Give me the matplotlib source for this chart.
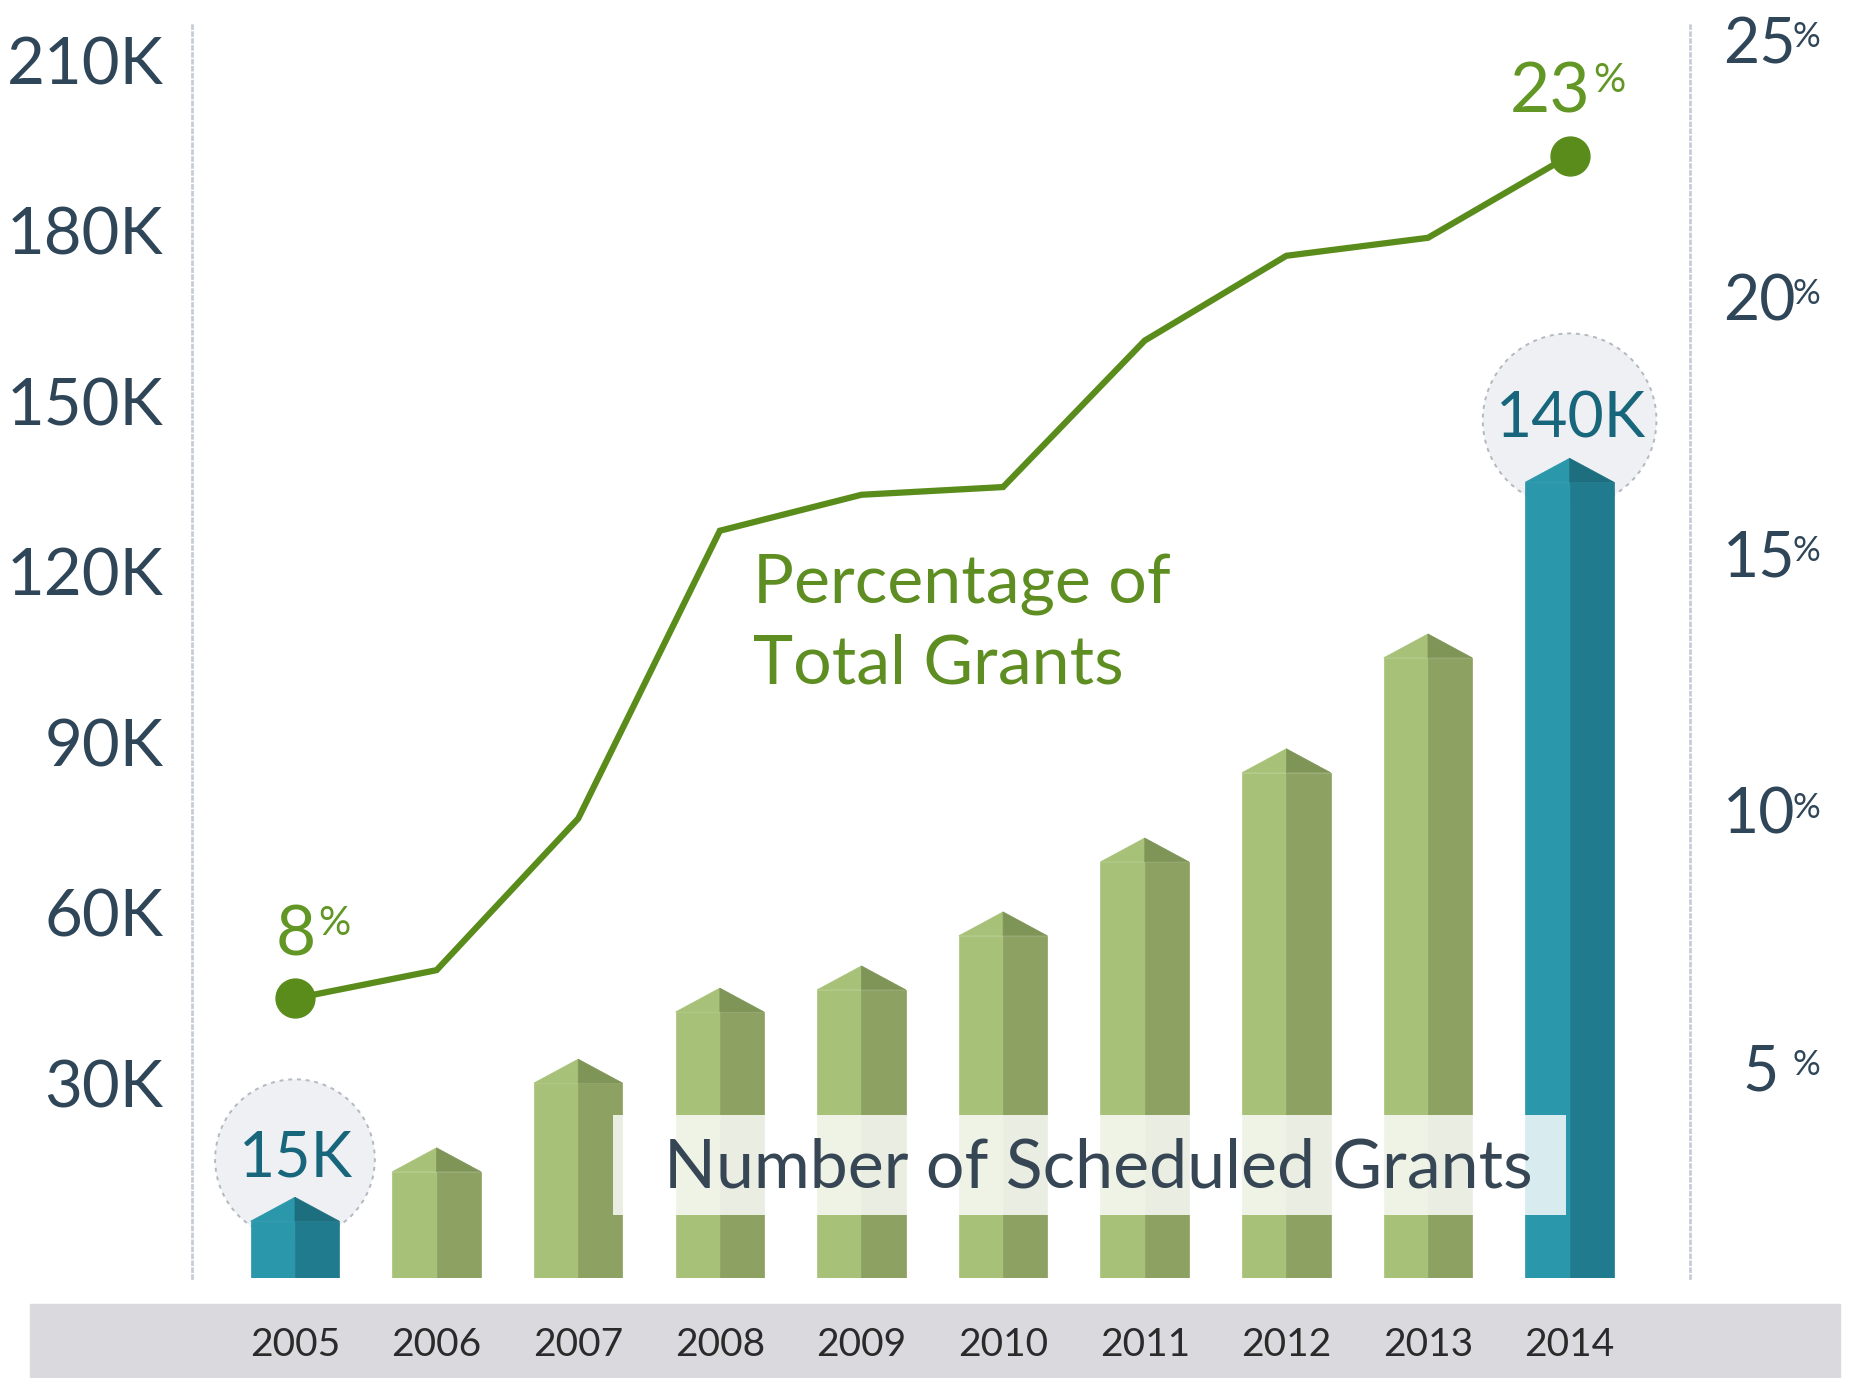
import numpy as np
import matplotlib
matplotlib.use("Agg")
import matplotlib.pyplot as plt
from matplotlib.patches import Rectangle

plt.rcParams["font.family"] = ["Lato", "DejaVu Sans"]

# data
years = ["2005", "2006", "2007", "2008", "2009", "2010", "2011", "2012", "2013", "2014"]
grants_k = [10.0, 18.7, 34.3, 46.8, 50.7, 60.2, 73.2, 88.9, 109.1, 140.0]
pct_total = [6.8, 7.35, 10.3, 15.9, 16.6, 16.75, 19.6, 21.25, 21.6, 23.2]
bubble_idx = [0, 9]
bubble_text = ["15K", "140K"]
end_idx = [0, 9]
end_text = ["8", "23"]
left_ticks = [30, 60, 90, 120, 150, 180, 210]
right_ticks = [5, 10, 15, 20, 25]

# colours
TEAL_L, TEAL_D, TEAL_R = "#2a97ab", "#1f7b8d", "#1d6f80"
GREEN_L, GREEN_D, GREEN_R = "#a7c278", "#8ca162", "#7f9557"
LINE = "#5a8c1c"
AXTXT = "#2f4558"

fig = plt.figure(figsize=(18.5, 13.78), dpi=100)
fig.add_artist(Rectangle((30 / 1850, 0), 1810 / 1850, 74 / 1378,
                         transform=fig.transFigure, color="#d9d9de", zorder=0))

ax = fig.add_axes([192 / 1850, 100 / 1378, 1498 / 1850, 1254 / 1378])
ax2 = ax.twinx()

x = np.arange(len(years))
w = 0.625
roof = 4.2
hl = set(bubble_idx)
light = [TEAL_L if i in hl else GREEN_L for i in x]
dark = [TEAL_D if i in hl else GREEN_D for i in x]
rdark = [TEAL_R if i in hl else GREEN_R for i in x]

ax.bar(x - w / 4, grants_k, width=w / 2, color=light, edgecolor=light, lw=0.5, zorder=3)
ax.bar(x + w / 4, grants_k, width=w / 2, color=dark, edgecolor=dark, lw=0.5, zorder=3)
for xi, v, cl, cr in zip(x, grants_k, light, rdark):
    ax.fill([xi - w / 2, xi, xi], [v, v + roof, v], color=cl, lw=0.5, zorder=3)
    ax.fill([xi, xi, xi + w / 2], [v, v + roof, v], color=cr, lw=0.5, zorder=3)

# bubbles with value labels
bx = [x[i] for i in bubble_idx]
by = [grants_k[i] + 10.9 for i in bubble_idx]
ax.scatter(bx, by, s=[115 ** 2, 125 ** 2], facecolor="#eef0f3", edgecolor="#b3b8c1",
           linewidths=1.4, linestyles=(0, (2, 2.5)), zorder=2)
for xi, yi, t in zip(bx, by, bubble_text):
    ax.annotate(t, xy=(xi, yi), xytext=(1, -12.5), textcoords="offset points",
                ha="center", va="baseline", fontsize=45, color="#17667b", zorder=4)

# label box
ax.add_patch(Rectangle((0.281, 0.0502), 0.636, 0.0797, transform=ax.transAxes,
                       facecolor="white", alpha=0.82, lw=0, zorder=5))
ax.text(0.3151, 0.0718, "Number of Scheduled Grants", transform=ax.transAxes,
        ha="left", va="baseline", fontsize=49, color="#364654", zorder=6)

ax.text(0.3745, 0.5375, "Percentage of", transform=ax.transAxes,
        ha="left", va="baseline", fontsize=49, color="#5e8e22")
ax.text(0.3745, 0.4737, "Total Grants", transform=ax.transAxes,
        ha="left", va="baseline", fontsize=49, color="#5e8e22")

# percentage line
ax2.plot(x, pct_total, color=LINE, lw=4.5, marker="o", markevery=end_idx,
         ms=28, solid_joinstyle="miter", zorder=4)
for i, t in zip(end_idx, end_text):
    ax2.annotate(t, xy=(x[i], pct_total[i]), xytext=(15, 31), textcoords="offset points",
                 ha="right", va="baseline", fontsize=50, color="#629625")
    ax2.annotate("%", xy=(x[i], pct_total[i]), xytext=(17, 46), textcoords="offset points",
                 ha="left", va="baseline", fontsize=29, color="#629625")

# axes
ax.set_xlim(-0.727, 9.85)
ax.set_ylim(0, 220.6)
ax2.set_ylim(1.36, 25.76)

ax.set_xticks(x, labels=years)
ax.tick_params(axis="x", length=0, pad=35, labelsize=28, labelcolor="#2a2a2a")
ax.set_yticks(left_ticks, labels=[f"{t}K" for t in left_ticks])
ax.tick_params(axis="y", length=0, pad=20.5, labelsize=47, labelcolor=AXTXT)
for lab in ax.get_yticklabels():
    lab.set_va("baseline")

ax2.set_yticks(right_ticks, labels=[str(t) for t in right_ticks])
ax2.tick_params(axis="y", length=0, pad=76, labelsize=45, labelcolor=AXTXT)
for lab in ax2.get_yticklabels():
    lab.set_ha("right")
    lab.set_va("baseline")
ax2.yaxis.get_major_ticks()[0].set_pad(64)
for t in right_ticks:
    ax2.annotate("%", xy=(1.0687, t), xycoords=ax2.get_yaxis_transform(),
                 xytext=(0, 11.5), textcoords="offset points",
                 ha="left", va="baseline", fontsize=25, color=AXTXT)

for s in ["top", "bottom"]:
    ax.spines[s].set_visible(False)
for s in ["left", "right"]:
    ax.spines[s].set_linestyle((0, (1, 1.5)))
    ax.spines[s].set_color("#c6cdd7")
    ax.spines[s].set_linewidth(2)
for s in ax2.spines.values():
    s.set_visible(False)

fig.savefig("out.png", dpi=100)
